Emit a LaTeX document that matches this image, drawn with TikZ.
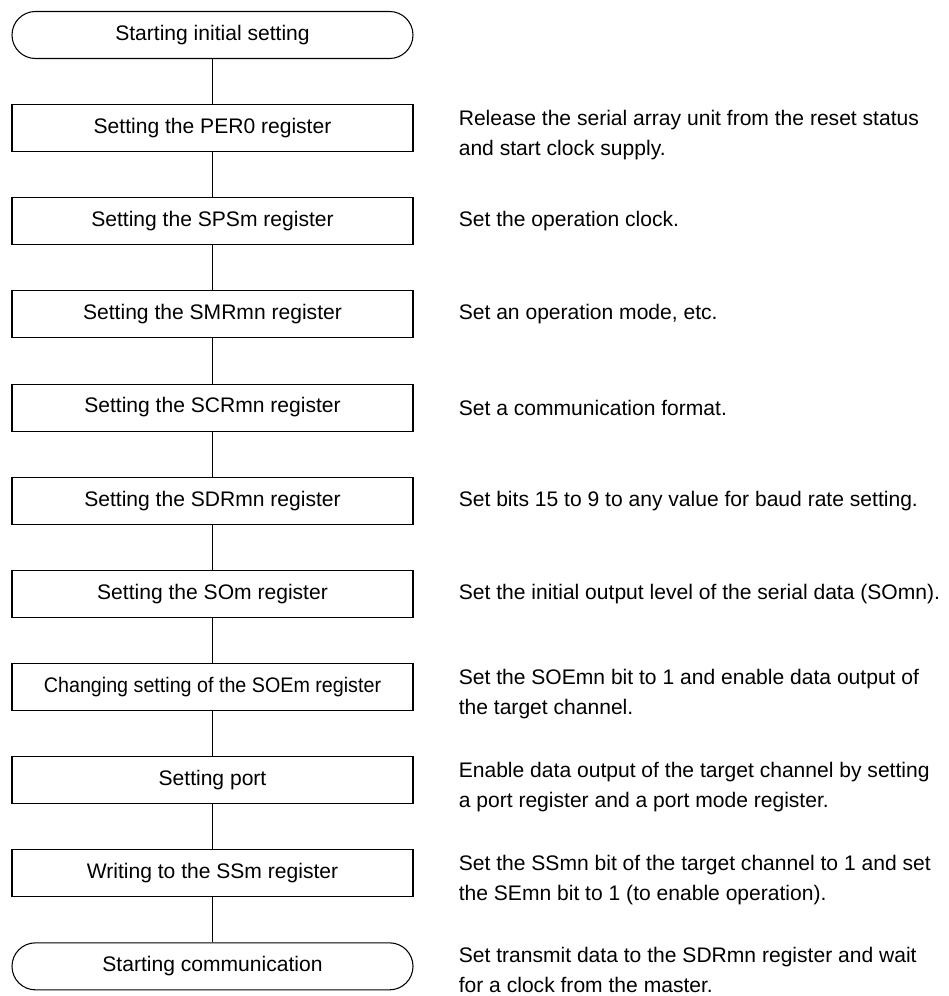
\documentclass[tikz,border=0pt]{standalone}
\usepackage{fontspec}
\setmainfont{Liberation Sans}
\usepackage{graphicx}
\usetikzlibrary{positioning}

\begin{document}
\begin{tikzpicture}[x=0.75pt, y=-0.75pt, node distance=33.8pt and 33.75pt,
    font=\fontsize{15.8}{22.5}\selectfont,
    block/.style={rectangle, draw, line width=0.8pt, minimum width=300.75pt, minimum height=35.25pt, text centered, inner sep=0pt},
    term/.style={block, rounded corners=17.6pt},
    note/.style={align=left, inner sep=0pt, anchor=west},
    note2/.style={note, text depth=0pt, yshift=-3.8pt},
    line/.style={line width=0.6pt}]

    \useasboundingbox (0,0) rectangle (949,996);

    % Nodes
    \node [term] (start) at (212.5,35) {Starting initial setting};
    \node [block, below=of start] (per) {Setting the PER0 register};
    \node [block, below=of per] (sps) {Setting the SPSm register};
    \node [block, below=of sps] (smr) {Setting the SMRmn register};
    \node [block, below=of smr] (scr) {Setting the SCRmn register};
    \node [block, below=of scr] (sdr) {Setting the SDRmn register};
    \node [block, below=of sdr] (som) {Setting the SOm register};
    \node [block, below=of som] (soe) {\scalebox{0.935}[1]{Changing setting of the SOEm register}};
    \node [block, below=of soe] (port) {Setting port};
    \node [block, below=of port] (ssm) {Writing to the SSm register};
    \node [term, below=of ssm] (comm) {Starting communication};

    % Notes
    \node [right=of per, note2] (nper) {Release the serial array unit from the reset status\\and start clock supply.};
    \node [right=of sps, note] (nsps) {Set the operation clock.};
    \node [right=of smr, note] (nsmr) {Set an operation mode, etc.};
    \node [right=of scr, note] (nscr) {Set a communication format.};
    \node [right=of sdr, note] (nsdr) {Set bits 15 to 9 to any value for baud rate setting.};
    \node [right=of som, note] (nsom) {Set the initial output level of the serial data (SOmn).};
    \node [right=of soe, note2] (nsoe) {Set the SOEmn bit to 1 and enable data output of\\the target channel.};
    \node [right=of port, note2] (nport) {Enable data output of the target channel by setting\\a port register and a port mode register.};
    \node [right=of ssm, note2] (nssm) {Set the SSmn bit of the target channel to 1 and set\\the SEmn bit to 1 (to enable operation).};
    \node [right=of comm, note2, yshift=1.5pt] (ncomm) {Set transmit data to the SDRmn register and wait\\for a clock from the master.};

    % Lines
    \draw [line] (start) -- (per);
    \draw [line] (per) -- (sps);
    \draw [line] (sps) -- (smr);
    \draw [line] (smr) -- (scr);
    \draw [line] (scr) -- (sdr);
    \draw [line] (sdr) -- (som);
    \draw [line] (som) -- (soe);
    \draw [line] (soe) -- (port);
    \draw [line] (port) -- (ssm);
    \draw [line] (ssm) -- (comm);

\end{tikzpicture}
\end{document}
